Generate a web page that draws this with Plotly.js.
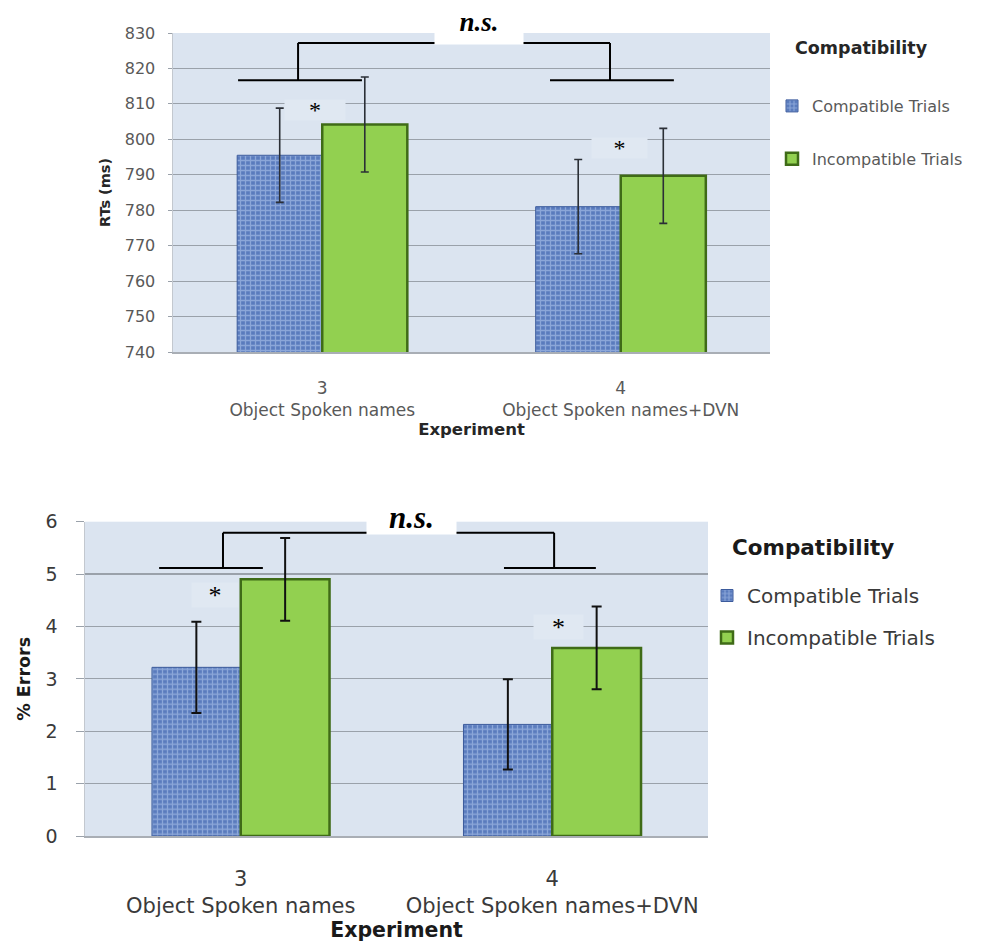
<!DOCTYPE html>
<html>
<head>
<meta charset="utf-8">
<script src="https://cdn.plot.ly/plotly-3.0.1.min.js"></script>
<style>html,body{margin:0;padding:0;background:#fff;}#chart{width:981px;height:946px;}</style>
</head>
<body>
<div id="chart"></div>
<script>
// ---- data ----
var experiments = ["3<br>Object Spoken names", "4<br>Object Spoken names+DVN"];
var seriesNames = ["Compatible Trials", "Incompatible Trials"];
var rtCompatible = [795.5, 781.0];
var rtCompatibleErr = [13.3, 13.3];
var rtIncompatible = [804.2, 789.7];
var rtIncompatibleErr = [13.4, 13.4];
var errCompatible = [3.22, 2.13];
var errCompatibleErr = [0.87, 0.86];
var errIncompatible = [4.90, 3.59];
var errIncompatibleErr = [0.79, 0.79];
var rtTicks = [740, 750, 760, 770, 780, 790, 800, 810, 820, 830];
var errTicks = [0, 1, 2, 3, 4, 5, 6];

var W = 981, H = 946;
function px(x){ return x / W; }
function py(y){ return 1 - y / H; }

var FONT = "DejaVu Sans, sans-serif";
var SERIF = "Liberation Serif, serif";
var blueMarker = {color: "#5b7dc0", line: {color: "#3c5b9c", width: 1},
  pattern: {shape: "+", bgcolor: "#5a7bbd", fgcolor: "#bcd2f4", size: 5, solidity: 0.45, fillmode: "overlay"}};
var greenMarker = {color: "#92d050", line: {color: "#3f6b17", width: 2.5}};

var traces = [
  {type: "bar", x: experiments, y: rtCompatible, name: seriesNames[0], xaxis: "x", yaxis: "y",
   marker: blueMarker, legend: "legend", legendgroup: "a",
   error_y: {type: "data", array: rtCompatibleErr, color: "#2b2f36", thickness: 1.6, width: 4}},
  {type: "bar", x: experiments, y: rtIncompatible, name: seriesNames[1], xaxis: "x", yaxis: "y",
   marker: greenMarker, legend: "legend", legendgroup: "b",
   error_y: {type: "data", array: rtIncompatibleErr, color: "#2b2f36", thickness: 1.6, width: 4}},
  {type: "bar", x: experiments, y: errCompatible, name: seriesNames[0], xaxis: "x2", yaxis: "y2",
   marker: blueMarker, legend: "legend2", legendgroup: "c",
   error_y: {type: "data", array: errCompatibleErr, color: "#111", thickness: 2, width: 5}},
  {type: "bar", x: experiments, y: errIncompatible, name: seriesNames[1], xaxis: "x2", yaxis: "y2",
   marker: greenMarker, legend: "legend2", legendgroup: "d",
   error_y: {type: "data", array: errIncompatibleErr, color: "#111", thickness: 2, width: 5}}
];

var gridC = "#9aa1aa";
function lineShape(xref, yref, x0, y0, x1, y1, w){
  return {type: "line", xref: xref, yref: yref, x0: x0, y0: y0, x1: x1, y1: y1,
          line: {color: "#000", width: w}, layer: "above"};
}
var shapes = [
  // top chart brackets (axis units)
  lineShape("x", "y", -0.081, 827.2, 0.964, 827.2, 2),
  lineShape("x", "y", -0.081, 827.2, -0.081, 816.7, 2),
  lineShape("x", "y", 0.964, 827.2, 0.964, 816.7, 2),
  lineShape("x", "y", -0.282, 816.7, 0.133, 816.7, 2),
  lineShape("x", "y", 0.763, 816.7, 1.178, 816.7, 2),
  // bottom chart brackets
  lineShape("x2", "y2", -0.057, 5.79, 1.006, 5.79, 2),
  lineShape("x2", "y2", -0.057, 5.79, -0.057, 5.116, 2),
  lineShape("x2", "y2", 1.006, 5.79, 1.006, 5.116, 2),
  lineShape("x2", "y2", -0.262, 5.116, 0.071, 5.116, 2),
  lineShape("x2", "y2", 0.845, 5.116, 1.140, 5.116, 2)
];

function boxAnn(text, cx, cy, w, h, size, bg){
  return {xref: "paper", yref: "paper", x: px(cx), y: py(cy), xanchor: "center", yanchor: "middle",
          text: text, showarrow: false, bgcolor: bg, width: w, height: h, borderpad: 0,
          font: {family: SERIF, size: size, color: "#000"}};
}
var starBg = "#e0e8f2";
var annotations = [
  boxAnn("<b><i>n.s.</i></b>", 479, 22, 88, 44, 27, "#ffffff"),
  boxAnn("<b><i>n.s.</i></b>", 411, 517, 89, 33, 31, "#ffffff"),
  boxAnn("*", 315, 110, 60, 20, 24, starBg),
  boxAnn("*", 619, 148, 55, 20, 24, starBg),
  boxAnn("*", 215, 595, 46, 24, 26, starBg),
  boxAnn("*", 558, 627, 49, 24, 26, starBg),
  {xref: "paper", yref: "paper", x: px(793), y: py(48), xanchor: "left", yanchor: "middle", showarrow: false,
   text: "<b>Compatibility</b>", font: {family: FONT, size: 17.5, color: "#262626"}},
  {xref: "paper", yref: "paper", x: px(730), y: py(547), xanchor: "left", yanchor: "middle", showarrow: false,
   text: "<b>Compatibility</b>", font: {family: FONT, size: 21.5, color: "#1a1a1a"}}
];

var layout = {
  width: W, height: H,
  margin: {l: 0, r: 0, t: 0, b: 0},
  paper_bgcolor: "#ffffff",
  plot_bgcolor: "#dbe4f0",
  barmode: "group", bargap: 0.43, bargroupgap: 0,
  font: {family: FONT, color: "#595959"},
  xaxis: {domain: [px(173), px(770)], anchor: "y", type: "category", range: [-0.5, 1.5],
    showgrid: false, showline: true, linecolor: "#a9aeb5", linewidth: 1.5, ticks: "",
    tickfont: {size: 17, color: "#595959"}, ticklabelstandoff: 20,
    title: {text: "<b>Experiment</b>", font: {size: 16.5, color: "#262626"}, standoff: 3}},
  yaxis: {domain: [py(352), py(33)], anchor: "x", range: [740, 830], tickvals: rtTicks,
    showgrid: true, gridcolor: gridC, gridwidth: 1.2, zeroline: false,
    showline: true, linecolor: "#c3c8cf", linewidth: 1.5, ticks: "outside", ticklen: 4, tickcolor: gridC,
    tickfont: {size: 16, color: "#595959"}, ticklabelstandoff: 9,
    title: {text: "<b>RTs (ms)</b>", font: {size: 14.5, color: "#262626"}, standoff: 10}},
  xaxis2: {domain: [px(85), px(708)], anchor: "y2", type: "category", range: [-0.5, 1.5],
    showgrid: false, showline: true, linecolor: "#a9aeb5", linewidth: 1.5, ticks: "",
    tickfont: {size: 21, color: "#3a3a3a"}, ticklabelstandoff: 23,
    title: {text: "<b>Experiment</b>", font: {size: 20.5, color: "#1a1a1a"}, standoff: 3}},
  yaxis2: {domain: [py(836), py(521.7)], anchor: "x2", range: [0, 6], tickvals: errTicks,
    showgrid: true, gridcolor: gridC, gridwidth: 1.2, zeroline: false,
    showline: true, linecolor: "#c3c8cf", linewidth: 1.5, ticks: "outside", ticklen: 8, tickcolor: gridC,
    tickfont: {size: 19, color: "#3a3a3a"}, ticklabelstandoff: 14,
    title: {text: "<b>% Errors</b>", font: {size: 17.5, color: "#1a1a1a"}, standoff: 10}},
  legend: {x: px(772), y: py(89), xanchor: "left", yanchor: "top", bgcolor: "rgba(0,0,0,0)",
    font: {family: FONT, size: 16, color: "#595959"}, tracegroupgap: 29, traceorder: "grouped"},
  legend2: {x: px(707), y: py(576), xanchor: "left", yanchor: "top", bgcolor: "rgba(0,0,0,0)",
    font: {family: FONT, size: 20, color: "#3a3a3a"}, tracegroupgap: 13, traceorder: "grouped"},
  showlegend: true,
  shapes: shapes,
  annotations: annotations
};

Plotly.newPlot("chart", traces, layout, {displayModeBar: false, staticPlot: true});
</script>
</body>
</html>
